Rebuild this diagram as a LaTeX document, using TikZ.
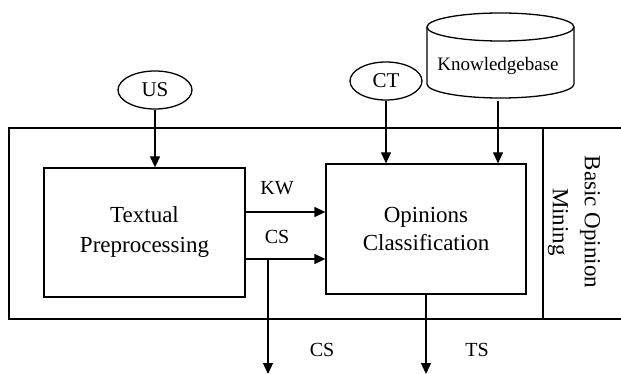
\documentclass[tikz,border=0pt]{standalone}
\usepackage{fontspec}
\setmainfont{Liberation Serif}
\usetikzlibrary{arrows.meta,shapes.geometric}
\begin{document}
\begin{tikzpicture}[x=1pt,y=-1pt,
  line width=1.3pt,
  arr/.style={-{Triangle[length=11pt,width=10pt]}},
  boxstyle/.style={draw,rectangle,align=center,font=\fontsize{23}{30}\selectfont},
  ell/.style={draw,ellipse,inner sep=0pt,font=\fontsize{21}{24}\selectfont},
  lbl/.style={font=\fontsize{20}{24}\selectfont,inner sep=0pt}]
\useasboundingbox (0,0) rectangle (621,374);
% outer frame
\draw (621,128) -- (9,128) -- (9,319) -- (621,319);
\draw (543,128) -- (543,319);
\node[rotate=-90,align=center,font=\fontsize{23}{32}\selectfont] (bom) at (574,222) {Basic Opinion\\Mining};
% boxes
\node[boxstyle,minimum width=201pt,minimum height=129pt] (tp) at (144.5,232.5) {Textual\\Preprocessing};
\node[boxstyle,minimum width=200pt,minimum height=130pt,font=\fontsize{23}{28}\selectfont] (oc) at (426,229) {Opinions\\Classification};
% inputs
\node[ell,minimum width=74pt,minimum height=38pt] (us) at (155,90) {US};
\node[ell,minimum width=72pt,minimum height=38pt] (ct) at (386,81) {CT};
% knowledgebase cylinder
\draw (427,27) -- (427,84) arc[start angle=180,end angle=0,x radius=73.5,y radius=14] -- (574,27);
\draw (500.5,27) ellipse [x radius=73.5,y radius=14];
\node[font=\fontsize{19}{22}\selectfont,inner sep=0pt] (kb) at (498,66) {Knowledgebase};
\coordinate (kbbot) at (498,101);
% arrows in
\draw[arr] (us.south) -- (us.south |- tp.north);
\draw[arr] (ct.south) -- (ct.south |- oc.north);
\draw[arr] (kbbot) -- (kbbot |- oc.north);
% internal arrows
\coordinate (kwy) at (0,212);
\coordinate (csy) at (0,259);
\draw[arr] (tp.east |- kwy) -- (oc.west |- kwy);
\draw[arr] (tp.east |- csy) -- (oc.west |- csy);
\node[lbl] (kw) at (277,188) {KW};
\node[lbl] (cs1) at (277,237) {CS};
% outputs
\coordinate (csd) at (268,259);
\coordinate (csend) at (268,374);
\coordinate (tsend) at (426,374);
\draw[arr] (csd) -- (csend);
\draw[arr] (oc.south) -- (tsend);
\node[lbl] (cs2) at (322,350) {CS};
\node[lbl] (ts) at (477,350) {TS};
\end{tikzpicture}
\end{document}
